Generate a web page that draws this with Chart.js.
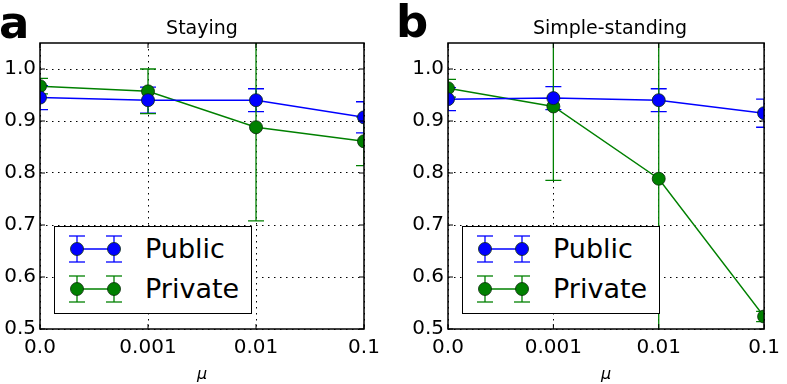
<!DOCTYPE html>
<html>
<head>
<meta charset="utf-8">
<script src="https://cdn.jsdelivr.net/npm/chart.js@4.4.0/dist/chart.umd.min.js"></script>
<style>
    body { margin: 0; background: #fff; font-family: 'DejaVu Sans', sans-serif; }
    #wrap { position: relative; width: 787px; height: 384px; overflow: hidden; }
    .panel { position: absolute; top: 0; height: 384px; }
    .letter { position: absolute; font-weight: bold; color: #000; line-height: 1; }
    .title { position: absolute; font-size: 19px; color: #000; transform: translateX(-50%); white-space: nowrap; line-height: 1; }
    .legend { position: absolute; top: 226px; width: 196px; height: 86px; border: 1.5px solid #000; background: #fff; }
    .legend .row { position: absolute; left: 0; height: 40px; width: 196px; }
    .legend svg { position: absolute; left: 0; top: 0; }
    .legend span { position: absolute; left: 90px; top: 0; line-height: 40px; font-size: 27px; color: #000; }
</style>
</head>
<body>
<div id="wrap">
    <div class="panel" style="left:0;width:390px"><canvas id="chartA"></canvas></div>
    <div class="panel" style="left:390px;width:397px"><canvas id="chartB"></canvas></div>

    <div class="letter" style="left:-1px;top:0px;font-size:45px">a</div>
    <div class="letter" style="left:396px;top:-1px;font-size:45px">b</div>
    <div class="title" style="left:202px;top:18px">Staying</div>
    <div class="title" style="left:610px;top:18px">Simple-standing</div>

    <div class="legend" id="legendA" style="left:54px"></div>
    <div class="legend" id="legendB" style="left:462px"></div>
</div>
<script>
// ---- data ----
const muLabels = ['0.0', '0.001', '0.01', '0.1'];
const yTicks = [0.5, 0.6, 0.7, 0.8, 0.9, 1.0];

const stayingPublic = [0.945, 0.940, 0.940, 0.907];
const stayingPublicErr = [0.023, 0.025, 0.022, 0.030];
const stayingPrivate = [0.967, 0.957, 0.888, 0.861];
const stayingPrivateErr = [0.015, 0.043, 0.180, 0.047];

const simplePublic = [0.942, 0.944, 0.940, 0.915];
const simplePublicErr = [0.022, 0.022, 0.022, 0.027];
const simplePrivate = [0.963, 0.928, 0.789, 0.524];
const simplePrivateErr = [0.017, 0.142, 0.400, 0.010];

const seriesNames = ['Public', 'Private'];
const seriesColors = ['#0000ff', '#008000'];

Chart.defaults.font.family = "'DejaVu Sans', sans-serif";
Chart.defaults.color = '#000';

//..error bars + frame with inward ticks
const errorBarPlugin = {
    id: 'errorBars',
    beforeDatasetsDraw(chart) {
        const ctx = chart.ctx;
        const area = chart.chartArea;
        const yScale = chart.scales.y;
        ctx.save();
        ctx.beginPath();
        ctx.rect(area.left, area.top, area.right - area.left, area.bottom - area.top);
        ctx.clip();
        chart.data.datasets.forEach((ds, i) => {
            const meta = chart.getDatasetMeta(i);
            ctx.strokeStyle = ds.borderColor;
            ctx.lineWidth = 1.3;
            meta.data.forEach((pt, j) => {
                const e = ds.errors[j];
                const v = ds.data[j];
                const yTop = yScale.getPixelForValue(v + e);
                const yBot = yScale.getPixelForValue(v - e);
                ctx.beginPath();
                ctx.moveTo(pt.x, yTop);
                ctx.lineTo(pt.x, yBot);
                ctx.moveTo(pt.x - 8, yTop);
                ctx.lineTo(pt.x + 8, yTop);
                ctx.moveTo(pt.x - 8, yBot);
                ctx.lineTo(pt.x + 8, yBot);
                ctx.stroke();
            });
        });
        ctx.restore();
    },
    afterDraw(chart) {
        const ctx = chart.ctx;
        const a = chart.chartArea;
        ctx.save();
        ctx.strokeStyle = '#000';
        ctx.lineWidth = 1;
        ctx.beginPath();
        chart.scales.y.ticks.forEach(t => {
            const y = chart.scales.y.getPixelForValue(t.value);
            ctx.moveTo(a.left, y); ctx.lineTo(a.left + 5, y);
            ctx.moveTo(a.right, y); ctx.lineTo(a.right - 5, y);
        });
        muLabels.forEach((_, i) => {
            const x = chart.scales.x.getPixelForValue(i);
            ctx.moveTo(x, a.bottom); ctx.lineTo(x, a.bottom - 5);
            ctx.moveTo(x, a.top); ctx.lineTo(x, a.top + 5);
        });
        ctx.stroke();
        ctx.lineWidth = 1.5;
        ctx.strokeRect(a.left, a.top, a.right - a.left, a.bottom - a.top);
        ctx.restore();
    }
};

function makeDataset(label, values, errors, color) {
    return {
        label: label,
        data: values,
        errors: errors,
        borderColor: color,
        backgroundColor: color,
        borderWidth: 1.5,
        pointRadius: 6.5,
        pointHoverRadius: 6.5,
        pointBackgroundColor: color,
        pointBorderColor: '#0a2a0a',
        pointBorderWidth: 0.8,
        tension: 0,
        clip: 0
    };
}

function makeChart(canvasId, pub, pubErr, priv, privErr, yWidth, padRight) {
    return new Chart(document.getElementById(canvasId), {
        type: 'line',
        data: {
            labels: muLabels,
            datasets: [
                makeDataset(seriesNames[0], pub, pubErr, seriesColors[0]),
                makeDataset(seriesNames[1], priv, privErr, seriesColors[1])
            ]
        },
        options: {
            responsive: true,
            maintainAspectRatio: false,
            animation: false,
            events: [],
            layout: { padding: { top: 43, right: padRight, left: 0, bottom: 0 } },
            plugins: { legend: { display: false }, tooltip: { enabled: false } },
            scales: {
                x: {
                    type: 'category',
                    offset: false,
                    grid: { color: '#000', lineWidth: 1, drawTicks: false },
                    border: { display: false, dash: [1.5, 4.5] },
                    ticks: { font: { size: 20 }, padding: 7, maxRotation: 0, autoSkip: false },
                    title: { display: true, text: 'μ', font: { size: 16, style: 'italic' }, padding: { top: 0, bottom: 0 } },
                    afterFit(scale) { scale.height = 55; }
                },
                y: {
                    min: 0.5,
                    max: 1.05,
                    grid: { color: '#000', lineWidth: 1, drawTicks: false },
                    border: { display: false, dash: [1.5, 4.5] },
                    ticks: { font: { size: 20 }, padding: 4, callback: v => v.toFixed(1) },
                    afterBuildTicks(scale) { scale.ticks = yTicks.map(v => ({ value: v })); },
                    afterFit(scale) { scale.width = yWidth; }
                }
            }
        },
        plugins: [errorBarPlugin]
    });
}

function buildLegend(id) {
    const box = document.getElementById(id);
    seriesNames.forEach((name, i) => {
        const c = seriesColors[i];
        const row = document.createElement('div');
        row.className = 'row';
        row.style.top = (i === 0 ? 2 : 42) + 'px';
        row.innerHTML = `
            <svg width="80" height="40">
                <line x1="22" y1="20" x2="59" y2="20" stroke="${c}" stroke-width="1.5"/>
                <g stroke="${c}" stroke-width="1.3">
                    <line x1="22" y1="7" x2="22" y2="33"/><line x1="14" y1="7" x2="30" y2="7"/><line x1="14" y1="33" x2="30" y2="33"/>
                    <line x1="59" y1="7" x2="59" y2="33"/><line x1="51" y1="7" x2="67" y2="7"/><line x1="51" y1="33" x2="67" y2="33"/>
                </g>
                <circle cx="22" cy="20" r="6.5" fill="${c}" stroke="#0a2a0a" stroke-width="0.8"/>
                <circle cx="59" cy="20" r="6.5" fill="${c}" stroke="#0a2a0a" stroke-width="0.8"/>
            </svg>
            <span>${name}</span>`;
        box.appendChild(row);
    });
}

makeChart('chartA', stayingPublic, stayingPublicErr, stayingPrivate, stayingPrivateErr, 40, 26);
makeChart('chartB', simplePublic, simplePublicErr, simplePrivate, simplePrivateErr, 58, 15);
buildLegend('legendA');
buildLegend('legendB');
</script>
</body>
</html>
